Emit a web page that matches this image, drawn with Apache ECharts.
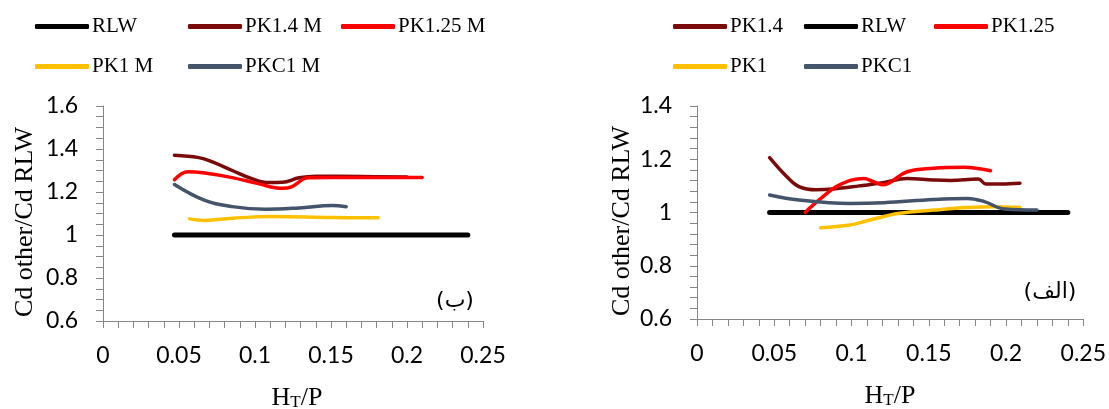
<!DOCTYPE html>
<html><head><meta charset="utf-8">
<script src="https://cdn.jsdelivr.net/npm/echarts@6/dist/echarts.min.js"></script>
<style>html,body{margin:0;padding:0;background:#fff}#c{width:1109px;height:409px}</style>
</head><body><div id="c"></div>
<script>
// ---- tick labels ----
const xTicks = [0, 0.05, 0.1, 0.15, 0.2, 0.25];
const leftYTicks = [0.6, 0.8, 1, 1.2, 1.4, 1.6];
const rightYTicks = [0.6, 0.8, 1, 1.2, 1.4];

// ---- left chart (ب) ----
const L_RLW_x = [0.047, 0.24];
const L_RLW_y = [1, 1];
const L_PK14_x = [0.047, 0.063, 0.072, 0.085, 0.098, 0.109, 0.118, 0.129, 0.14, 0.17, 0.2];
const L_PK14_y = [1.371, 1.36, 1.34, 1.30, 1.262, 1.244, 1.245, 1.266, 1.273, 1.272, 1.27];
const L_PK125_x = [0.047, 0.056, 0.067, 0.085, 0.102, 0.118, 0.124, 0.135, 0.151, 0.18, 0.21];
const L_PK125_y = [1.257, 1.294, 1.288, 1.267, 1.239, 1.217, 1.224, 1.266, 1.267, 1.267, 1.268];
const L_PK1_x = [0.057, 0.067, 0.085, 0.111, 0.151, 0.181];
const L_PK1_y = [1.075, 1.068, 1.078, 1.086, 1.081, 1.08];
const L_PKC1_x = [0.047, 0.067, 0.085, 0.107, 0.129, 0.151, 0.16];
const L_PKC1_y = [1.235, 1.161, 1.132, 1.12, 1.126, 1.137, 1.131];

// ---- right chart (الف) ----
const R_PK14_x = [0.047, 0.058, 0.066, 0.077, 0.088, 0.105, 0.121, 0.136, 0.153, 0.164, 0.182, 0.187, 0.197, 0.209];
const R_PK14_y = [1.206, 1.135, 1.097, 1.085, 1.088, 1.1, 1.113, 1.128, 1.122, 1.12, 1.126, 1.107, 1.107, 1.11];
const R_RLW_x = [0.047, 0.24];
const R_RLW_y = [1, 1];
const R_PK125_x = [0.07, 0.079, 0.092, 0.108, 0.114, 0.121, 0.125, 0.136, 0.153, 0.173, 0.184, 0.19];
const R_PK125_y = [1.0, 1.047, 1.103, 1.128, 1.116, 1.104, 1.113, 1.153, 1.166, 1.17, 1.163, 1.157];
const R_PK1_x = [0.08, 0.099, 0.11, 0.131, 0.153, 0.175, 0.192, 0.209];
const R_PK1_y = [0.943, 0.953, 0.969, 0.997, 1.009, 1.019, 1.022, 1.019];
const R_PKC1_x = [0.047, 0.066, 0.099, 0.121, 0.153, 0.175, 0.186, 0.199, 0.22];
const R_PKC1_y = [1.066, 1.047, 1.034, 1.037, 1.049, 1.053, 1.041, 1.013, 1.009];

const C = {RLW:'#000000', PK14:'#7b0a0a', PK125:'#ff0000', PK1:'#ffc000', PKC1:'#44546a'};
const zip = (xs, ys) => xs.map((x, i) => [x, ys[i]]);
const SERIF = '"Liberation Serif", "Times New Roman", serif';
const SANS = 'Lato, "Open Sans", sans-serif';

function line(name, idx, xs, ys, color, w) {
  return {
    type: 'line', name, xAxisIndex: idx, yAxisIndex: idx,
    data: zip(xs, ys), smooth: 0.4, showSymbol: false, symbol: 'none',
    lineStyle: {color, width: w, cap: 'round', join: 'round'},
    itemStyle: {color}, silent: true, animation: false
  };
}

function xAxis(idx, margin) {
  return {
    type: 'value', gridIndex: idx, min: 0, max: 0.25, interval: 0.05,
    axisLine: {show: true, lineStyle: {color: '#868686', width: 1}},
    axisTick: {show: true, length: 7, lineStyle: {color: '#868686'}},
    minorTick: {show: true, splitNumber: 5, length: 7, lineStyle: {color: '#868686'}},
    splitLine: {show: false},
    axisLabel: {color: '#000', fontSize: 23, fontFamily: SANS, margin,
      formatter: v => { const m = xTicks.find(t => Math.abs(t - v) < 1e-9); return m === undefined ? '' : String(m); }}
  };
}
function yAxis(idx, max, split, margin, ticks) {
  return {
    type: 'value', gridIndex: idx, min: 0.6, max, interval: 0.2,
    axisLine: {show: true, lineStyle: {color: '#868686', width: 1}},
    axisTick: {show: true, length: 7, lineStyle: {color: '#868686'}},
    minorTick: {show: true, splitNumber: split, length: 7, lineStyle: {color: '#868686'}},
    splitLine: {show: false},
    axisLabel: {color: '#000', fontSize: 23, fontFamily: SANS, margin,
      formatter: v => { const m = ticks.find(t => Math.abs(t - v) < 1e-9); return m === undefined ? '' : String(m); }}
  };
}

function leg(name, left, top) {
  return {
    left, top, data: [name], icon: 'roundRect', itemWidth: 54, itemHeight: 5, itemGap: 0,
    textStyle: {fontFamily: SERIF, fontSize: 21, color: '#000', padding: [0, 0, 0, -2]},
    selectedMode: false
  };
}

const xName = '{a|H}{b|T}{a|/P}';
const xNameRich = {
  a: {fontSize: 26, fontFamily: SERIF, verticalAlign: 'bottom', lineHeight: 28},
  b: {fontSize: 17, fontFamily: SERIF, verticalAlign: 'bottom', lineHeight: 20}
};

const chart = echarts.init(document.getElementById('c'), null, {renderer: 'canvas'});
chart.setOption({
  animation: false,
  backgroundColor: '#fff',
  grid: [
    {left: 103, top: 106, width: 380, height: 215},
    {left: 697, top: 106, width: 387, height: 213}
  ],
  xAxis: [xAxis(0, 23), xAxis(1, 23)],
  yAxis: [yAxis(0, 1.6, 4, 25, leftYTicks), yAxis(1, 1.4, 5, 25, rightYTicks)],
  legend: [
    leg('RLW', 30, 11), leg('PK1.4 M', 183, 11), leg('PK1.25 M', 336, 11),
    leg('PK1 M', 30, 51), leg('PKC1 M', 183, 51),
    leg('PK1.4', 668, 11), leg('RLW', 799, 11), leg('PK1.25', 929, 11),
    leg('PK1', 668, 51), leg('PKC1', 799, 51)
  ],
  graphic: [
    {type: 'text', x: 25, y: 222, rotation: Math.PI / 2,
      style: {text: 'Cd other/Cd RLW', x: 0, y: 0, align: 'center', verticalAlign: 'middle', font: '26px ' + SERIF, fill: '#000'}},
    {type: 'text', x: 622, y: 221, rotation: Math.PI / 2,
      style: {text: 'Cd other/Cd RLW', x: 0, y: 0, align: 'center', verticalAlign: 'middle', font: '26px ' + SERIF, fill: '#000'}},
    {type: 'text', x: 297, y: 397,
      style: {text: xName, x: 0, y: 0, align: 'center', verticalAlign: 'middle', fill: '#000', rich: xNameRich}},
    {type: 'text', x: 890, y: 395,
      style: {text: xName, x: 0, y: 0, align: 'center', verticalAlign: 'middle', fill: '#000', rich: xNameRich}},
    {type: 'text', x: 455, y: 301,
      style: {text: '(ب)', x: 0, y: 0, align: 'center', verticalAlign: 'middle', font: '22px "DejaVu Sans", sans-serif', fill: '#000'}},
    {type: 'text', x: 1050, y: 292,
      style: {text: '(الف)', x: 0, y: 0, align: 'center', verticalAlign: 'middle', font: '22px "DejaVu Sans", sans-serif', fill: '#000'}}
  ],
  series: [
    line('RLW', 0, L_RLW_x, L_RLW_y, C.RLW, 5),
    line('PK1.4 M', 0, L_PK14_x, L_PK14_y, C.PK14, 3.5),
    line('PK1.25 M', 0, L_PK125_x, L_PK125_y, C.PK125, 3.5),
    line('PK1 M', 0, L_PK1_x, L_PK1_y, C.PK1, 3.5),
    line('PKC1 M', 0, L_PKC1_x, L_PKC1_y, C.PKC1, 3.5),
    line('PK1.4', 1, R_PK14_x, R_PK14_y, C.PK14, 3.5),
    line('RLW', 1, R_RLW_x, R_RLW_y, C.RLW, 5),
    line('PK1.25', 1, R_PK125_x, R_PK125_y, C.PK125, 3.5),
    line('PK1', 1, R_PK1_x, R_PK1_y, C.PK1, 3.5),
    line('PKC1', 1, R_PKC1_x, R_PKC1_y, C.PKC1, 3.5)
  ]
});
</script></body></html>
